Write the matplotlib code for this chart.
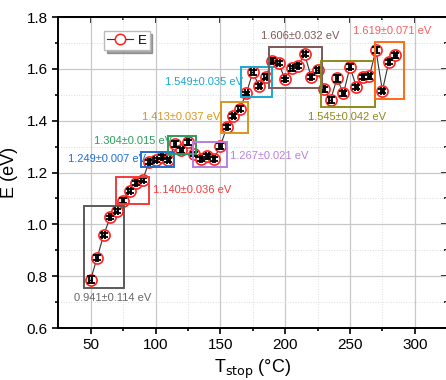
import matplotlib

matplotlib.use("Agg")

import matplotlib.pyplot as plt
from matplotlib.patches import Rectangle

plt.rcParams["font.family"] = ["Liberation Sans", "DejaVu Sans"]

T_STOP = [50, 55, 60, 65, 70, 75, 80, 85, 90, 95, 100, 105, 110, 115, 120, 125,
          130, 135, 140, 145, 150, 155, 160, 165, 170, 175, 180, 185, 190, 195,
          200, 205, 210, 215, 220, 225, 230, 235, 240, 245, 250, 255, 260, 265,
          270, 275, 280, 285]
E_VAL = [0.787, 0.872, 0.959, 1.027, 1.052, 1.092, 1.129, 1.160, 1.171, 1.240,
         1.248, 1.260, 1.248, 1.310, 1.285, 1.316, 1.271, 1.251, 1.263, 1.251,
         1.302, 1.375, 1.418, 1.447, 1.505, 1.586, 1.534, 1.570, 1.631, 1.621,
         1.559, 1.602, 1.612, 1.657, 1.570, 1.595, 1.521, 1.480, 1.563, 1.505,
         1.608, 1.529, 1.570, 1.572, 1.673, 1.516, 1.628, 1.653]
E_ERR = [0.012, 0.008, 0.007, 0.007, 0.008, 0.010, 0.009, 0.008, 0.008, 0.007,
         0.007, 0.008, 0.007, 0.010, 0.008, 0.010, 0.008, 0.008, 0.010, 0.008,
         0.012, 0.008, 0.008, 0.010, 0.007, 0.008, 0.008, 0.010, 0.010, 0.008,
         0.007, 0.010, 0.007, 0.008, 0.008, 0.010, 0.010, 0.012, 0.012, 0.010,
         0.010, 0.008, 0.008, 0.010, 0.010, 0.008, 0.008, 0.010]

# group boxes (x0, x1, y0, y1) with their labels
GROUP_BOX = [
    (44.7, 75.6, 0.754, 1.070),
    (69.8, 95.2, 1.077, 1.183),
    (89.1, 114.2, 1.220, 1.280),
    (109.6, 130.9, 1.271, 1.341),
    (128.6, 155.3, 1.220, 1.319),
    (150.5, 171.1, 1.351, 1.471),
    (165.9, 189.5, 1.492, 1.606),
    (187.3, 228.4, 1.527, 1.685),
    (227.6, 269.2, 1.454, 1.630),
    (269.4, 291.6, 1.485, 1.705),
]
GROUP_COLOR = ["#5a5a5a", "#f23b3b", "#1f6fd6", "#2a9d5c", "#b77fe0",
               "#d9951c", "#19a8d4", "#7d5858", "#8f8818", "#ff6a13"]
GROUP_TEXT = ["0.941±0.114 eV", "1.140±0.036 eV", "1.249±0.007 eV",
              "1.304±0.015 eV", "1.267±0.021 eV", "1.413±0.037 eV",
              "1.549±0.035 eV", "1.606±0.032 eV", "1.545±0.042 eV",
              "1.619±0.071 eV"]
TEXT_COLOR = ["#666666", "#f23b3b", "#1f6fd6", "#2a9d5c", "#b77fe0",
              "#d9951c", "#19a8d4", "#7d5858", "#8f8818", "#ff5a5a"]
TEXT_POS = [(67.2, 0.715, "center"), (97.8, 1.132, "left"), (62.5, 1.252, "center"),
            (82.6, 1.321, "center"), (157.8, 1.263, "left"), (149.7, 1.414, "right"),
            (167.4, 1.549, "right"), (211.3, 1.727, "center"), (247.6, 1.414, "center"),
            (282.3, 1.746, "center")]

fig = plt.figure(figsize=(4.46, 3.80), dpi=100)
ax = fig.add_axes([0.1307, 0.1368, 0.872, 0.8184])

ax.grid(which="major", color="#c8c8c8", lw=0.9)
ax.grid(which="minor", color="#dcdcdc", lw=0.7, ls=":")
ax.set_axisbelow(True)

ax.plot(T_STOP, E_VAL, color="#333333", lw=0.8, zorder=2)
ax.plot(T_STOP, E_VAL, ls="none", marker="o", ms=8, mfc="white", mec="#ff2020",
        mew=1.2, zorder=3)
ax.errorbar(T_STOP, E_VAL, yerr=E_ERR, xerr=1.0, fmt="none", ecolor="black",
            elinewidth=1.0, capsize=3.0, capthick=1.3, zorder=4)

for (x0, x1, y0, y1), col in zip(GROUP_BOX, GROUP_COLOR):
    ax.add_patch(Rectangle((x0, y0), x1 - x0, y1 - y0, fill=False, ec=col,
                           lw=1.4, zorder=5))
for txt, col, (tx, ty, ha) in zip(GROUP_TEXT, TEXT_COLOR, TEXT_POS):
    ax.text(tx, ty, txt, color=col, fontsize=8.0, ha=ha, va="center", zorder=6)

leg_line, = ax.plot([], [], color="#333333", lw=0.8, marker="o", ms=7.5,
                    mfc="white", mec="#ff2020", mew=1.1, label="E")
leg = ax.legend(handles=[leg_line], loc="upper left", bbox_to_anchor=(0.1, 0.975),
                frameon=True, fancybox=False, shadow=True, fontsize=9.5,
                handlelength=2.0, borderpad=0.25, handletextpad=0.3)
leg.get_frame().set_edgecolor("#bbbbbb")

ax.set_xlim(25, 325)
ax.set_ylim(0.6, 1.8)
ax.set_xticks([50, 100, 150, 200, 250, 300])
ax.set_xticks([75, 125, 175, 225, 275], minor=True)
ax.set_yticks([0.6, 0.8, 1.0, 1.2, 1.4, 1.6, 1.8])
ax.set_yticks([0.7, 0.9, 1.1, 1.3, 1.5, 1.7], minor=True)
ax.tick_params(which="both", direction="out", top=False, right=False,
               labelsize=11, width=1.2)
ax.tick_params(which="major", length=4)
ax.tick_params(which="minor", length=2.5)

sec_x = ax.secondary_xaxis("top")
sec_x.set_xticks([50, 100, 150, 200, 250, 300])
sec_x.set_xticks([75, 125, 175, 225, 275], minor=True)
sec_x.tick_params(which="both", direction="in", labeltop=False, width=1.2)
sec_x.tick_params(which="major", length=4)
sec_x.tick_params(which="minor", length=2.5)
sec_y = ax.secondary_yaxis("right")
sec_y.set_yticks([0.6, 0.8, 1.0, 1.2, 1.4, 1.6, 1.8])
sec_y.set_yticks([0.7, 0.9, 1.1, 1.3, 1.5, 1.7], minor=True)
sec_y.tick_params(which="both", direction="in", labelright=False, width=1.2)
sec_y.tick_params(which="major", length=4)
sec_y.tick_params(which="minor", length=2.5)

for sp in list(ax.spines.values()) + [sec_x.spines["top"], sec_y.spines["right"]]:
    sp.set_linewidth(1.4)

ax.set_xlabel(r"T$_{\mathrm{stop}}$ (°C)", fontsize=13, labelpad=4)
ax.set_ylabel("E (eV)", fontsize=13, labelpad=6)

fig.savefig("out.png", dpi=100)
